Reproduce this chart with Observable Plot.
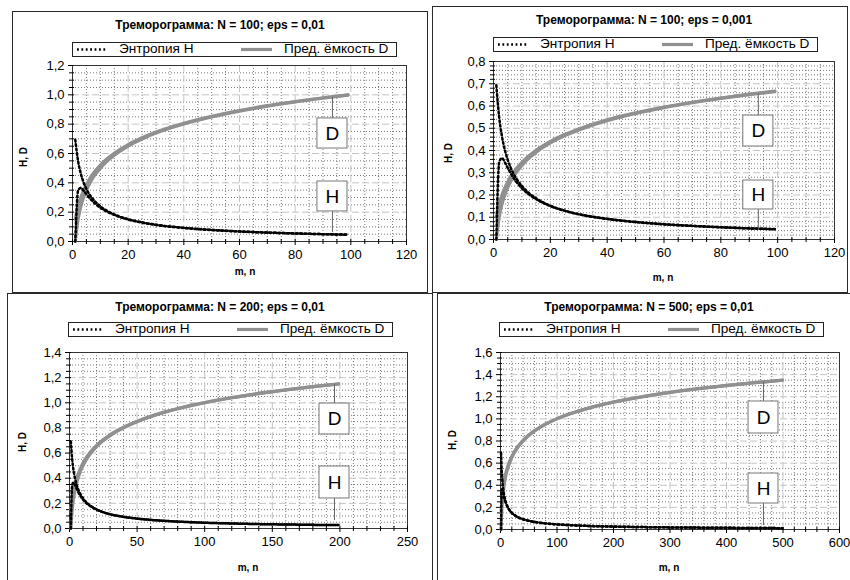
<!DOCTYPE html>
<html><head><meta charset="utf-8">
<script src="https://cdn.jsdelivr.net/npm/d3@7"></script>
<script src="https://cdn.jsdelivr.net/npm/@observablehq/plot@0.6"></script>
<style>
html,body{margin:0;padding:0;background:#fff;}
body{width:850px;height:580px;overflow:hidden;position:relative;font-family:"Liberation Sans",Arial,sans-serif;color:#000;}
.panel{position:absolute;overflow:hidden;}
.panel svg{position:absolute;left:0;top:0;overflow:visible;}
.border{position:absolute;left:0;top:0;right:0;bottom:0;border:1px solid #2a2a2a;box-sizing:border-box;pointer-events:none;}
.title{position:absolute;font-weight:bold;font-size:12px;transform:translate(-50%,-50%);white-space:nowrap;}
.axt{position:absolute;font-weight:bold;font-size:10px;white-space:nowrap;transform:translate(-50%,-50%);}
.axt.rot{transform:translate(-50%,-50%) rotate(-90deg);}
.legend{position:absolute;width:325px;height:15px;border:1px solid #222;box-sizing:border-box;background:#fff;font-size:13.6px;}
.legend span{position:absolute;top:-1px;line-height:14px;white-space:nowrap;}
.legend svg{position:absolute;left:0;top:0;}
</style>
</head><body>
<script>
// ---------- data ----------
const titles = [
  "Треморограмма: N = 100; eps = 0,01",
  "Треморограмма: N = 100; eps = 0,001",
  "Треморограмма: N = 200; eps = 0,01",
  "Треморограмма: N = 500; eps = 0,01"
];
const legendLabels = ["Энтропия H", "Пред. ёмкость D"];
const axisTitles = ["m, n", "H, D"];
const calloutLabels = ["D", "H"];

const mN100 = [1,2,3,4,5,6,7,8,10,12,15,20,25,30,40,50,60,70,80,90,99];
const hUpperN100 = [0.693,0.549,0.462,0.402,0.358,0.324,0.297,0.275,0.240,0.214,0.185,0.152,0.130,0.114,0.093,0.079,0.069,0.061,0.055,0.050,0.047];
const hLowerN100 = [0,0.347,0.366,0.347,0.322,0.299,0.278,0.260,0.230,0.207,0.181,0.150,0.129,0.113,0.092,0.078,0.068,0.061,0.055,0.050,0.046];
const dLowerN100e2 = [0,0.151,0.239,0.301,0.349,0.389,0.423,0.452,0.500,0.540,0.588,0.651,0.699,0.739,0.801,0.849,0.889,0.923,0.952,0.977,0.998];
const dUpperN100e2 = [0.151,0.239,0.301,0.349,0.389,0.423,0.452,0.477,0.521,0.557,0.602,0.661,0.707,0.746,0.806,0.854,0.893,0.926,0.954,0.980,1.000];
const dLowerN100e3 = [0,0.100,0.159,0.201,0.233,0.259,0.282,0.301,0.333,0.360,0.392,0.434,0.466,0.492,0.534,0.566,0.593,0.615,0.634,0.651,0.665];
const dUpperN100e3 = [0.100,0.159,0.201,0.233,0.259,0.282,0.301,0.318,0.347,0.371,0.401,0.441,0.472,0.497,0.538,0.569,0.595,0.617,0.636,0.653,0.667];

const mN200 = [1,2,3,4,5,6,8,10,12,15,20,25,30,40,50,60,70,80,90,100,120,140,160,180,199];
const hUpperN200 = [0.693,0.549,0.462,0.402,0.358,0.324,0.275,0.240,0.214,0.185,0.152,0.130,0.114,0.093,0.079,0.069,0.061,0.055,0.050,0.046,0.040,0.035,0.032,0.029,0.027];
const hLowerN200 = [0,0.347,0.366,0.347,0.322,0.299,0.260,0.230,0.207,0.181,0.150,0.129,0.113,0.092,0.078,0.068,0.061,0.055,0.050,0.046,0.040,0.035,0.032,0.029,0.027];
const dLowerN200 = [0,0.151,0.239,0.301,0.349,0.389,0.452,0.500,0.540,0.588,0.651,0.699,0.739,0.801,0.849,0.889,0.923,0.952,0.977,1.000,1.040,1.073,1.102,1.128,1.149];
const dUpperN200 = [0.151,0.239,0.301,0.349,0.389,0.423,0.477,0.521,0.557,0.602,0.661,0.707,0.746,0.806,0.854,0.893,0.926,0.954,0.980,1.002,1.041,1.075,1.103,1.129,1.150];

const mN500 = [1,2,3,4,5,6,8,10,15,20,30,40,50,60,80,100,125,150,200,250,300,350,400,450,499];
const hUpperN500 = [0.693,0.549,0.462,0.402,0.358,0.324,0.275,0.240,0.185,0.152,0.114,0.093,0.079,0.069,0.055,0.046,0.039,0.033,0.027,0.022,0.019,0.017,0.015,0.014,0.012];
const hLowerN500 = [0,0.347,0.366,0.347,0.322,0.299,0.260,0.230,0.181,0.150,0.113,0.092,0.078,0.068,0.055,0.046,0.039,0.033,0.026,0.022,0.019,0.017,0.015,0.014,0.012];
const dLowerN500 = [0,0.151,0.239,0.301,0.349,0.389,0.452,0.500,0.588,0.651,0.739,0.801,0.849,0.889,0.952,1.000,1.048,1.088,1.151,1.199,1.239,1.272,1.301,1.327,1.349];
const dUpperN500 = [0.151,0.239,0.301,0.349,0.389,0.423,0.477,0.521,0.602,0.661,0.746,0.806,0.854,0.893,0.954,1.002,1.050,1.089,1.152,1.200,1.239,1.273,1.302,1.327,1.350];

const xTicks120 = [0,20,40,60,80,100,120];
const xTicks250 = [0,50,100,150,200,250];
const xTicks600 = [0,100,200,300,400,500,600];
const yTicks12 = [0,0.2,0.4,0.6,0.8,1.0,1.2];
const yTicks08 = [0,0.1,0.2,0.3,0.4,0.5,0.6,0.7,0.8];
const yTicks14 = [0,0.2,0.4,0.6,0.8,1.0,1.2,1.4];
const yTicks16 = [0,0.2,0.4,0.6,0.8,1.0,1.2,1.4,1.6];

// ---------- drawing ----------
const H_COLOR = "#000", D_COLOR = "#909090";
const H_DASH = "1.8,2.6";
const fmtY = d => d.toFixed(1).replace(".", ",");

function minor(max, step, majors) {
  return d3.range(0, max + 1e-9, step).map(v => +v.toFixed(6)).filter(v => !majors.some(t => Math.abs(t - v) < 1e-9));
}

function makePanel(cfg) {
  const [pl, pt, pw, ph] = cfg.box;
  const [fx1, fx2, fy1, fy2] = cfg.frame;
  const div = document.createElement("div");
  div.className = "panel";
  Object.assign(div.style, {left: pl + "px", top: pt + "px", width: pw + "px", height: ph + "px"});

  const rowsD = [], rowsH = [];
  cfg.m.forEach((x, i) => {
    rowsD.push({x, v: cfg.dL[i], b: "lower"});
    rowsD.push({x, v: cfg.dU[i], b: "upper"});
    rowsH.push({x, v: cfg.hL[i], b: "lower"});
    rowsH.push({x, v: cfg.hU[i], b: "upper"});
  });
  const xMax = cfg.xTicks[cfg.xTicks.length - 1];
  const yMax = cfg.yTicks[cfg.yTicks.length - 1];
  const xMinor = minor(xMax, cfg.xMinorStep, cfg.xTicks);
  const yMinor = minor(yMax, cfg.yMinorStep, cfg.yTicks);
  const c = cfg.call;

  const svg = Plot.plot({
    width: pw, height: ph,
    marginLeft: fx1 - pl, marginRight: pl + pw - fx2,
    marginTop: fy1 - pt, marginBottom: pt + ph - fy2,
    x: {domain: [0, xMax]},
    y: {domain: [0, yMax]},
    style: {fontFamily: "'Liberation Sans', Arial, sans-serif", fontSize: "13px", color: "#000", background: "transparent", overflow: "visible"},
    marks: [
      Plot.gridX(xMinor, {stroke: "#7a7a7a", strokeOpacity: 1, strokeDasharray: "1,2"}),
      Plot.gridY(yMinor, {stroke: "#7a7a7a", strokeOpacity: 1, strokeDasharray: "1,2"}),
      Plot.gridX(cfg.xTicks, {stroke: "#c4c4c4", strokeOpacity: 1, strokeDasharray: "7,3"}),
      Plot.gridY(cfg.yTicks, {stroke: "#c4c4c4", strokeOpacity: 1, strokeDasharray: "7,3"}),
      Plot.frame({stroke: "#333"}),
      Plot.axisX(xMinor, {tickSize: 5, dy: -2, tickFormat: () => "", label: null}),
      Plot.axisY(yMinor, {tickSize: 5, dx: 2, tickFormat: () => "", label: null}),
      Plot.axisX(cfg.xTicks, {tickSize: 6, dy: -2, tickPadding: 4, tickFormat: d => String(d), fontSize: 13, label: null}),
      Plot.axisY(cfg.yTicks, {tickSize: 6, dx: 2, tickPadding: 4, tickFormat: fmtY, fontSize: 13, label: null}),
      Plot.line(rowsD, {x: "x", y: "v", z: "b", stroke: D_COLOR, strokeWidth: 3.2, curve: "monotone-x"}),
      Plot.line(rowsH, {x: "x", y: "v", z: "b", stroke: H_COLOR, strokeWidth: 2.5, strokeDasharray: H_DASH, curve: "monotone-x"}),
      // callouts
      Plot.ruleX([c.cx], {y1: c.dTop, y2: c.dBox[1], stroke: "#666"}),
      Plot.ruleX([c.cx], {y1: c.hBox[0], y2: c.hBottom, stroke: "#666"}),
      Plot.rect([c.dBox, c.hBox], {x1: c.cx - c.hw, x2: c.cx + c.hw, y1: d => d[0], y2: d => d[1], fill: "#fff", stroke: "#777"}),
      Plot.text(calloutLabels, {x: c.cx, y: (d, i) => i === 0 ? (c.dBox[0] + c.dBox[1]) / 2 : (c.hBox[0] + c.hBox[1]) / 2, text: d => d, fontSize: 19, fill: "#000"})
    ]
  });
  div.appendChild(svg);

  const t = document.createElement("div");
  t.className = "title"; t.textContent = cfg.title;
  t.style.left = cfg.titlePos[0] + "px"; t.style.top = cfg.titlePos[1] + "px";
  div.appendChild(t);

  const lg = document.createElement("div");
  lg.className = "legend";
  lg.style.left = cfg.legendPos[0] + "px"; lg.style.top = cfg.legendPos[1] + "px";
  lg.innerHTML = `<svg width="325" height="15"><line x1="4" x2="34" y1="6.5" y2="6.5" stroke="${H_COLOR}" stroke-width="2.5" stroke-dasharray="${H_DASH}"/><line x1="168" x2="199" y1="6.5" y2="6.5" stroke="${D_COLOR}" stroke-width="3.2"/></svg>` +
    `<span style="left:46px">${legendLabels[0]}</span><span style="left:211px">${legendLabels[1]}</span>`;
  div.appendChild(lg);

  const xl = document.createElement("div");
  xl.className = "axt"; xl.textContent = axisTitles[0];
  xl.style.left = cfg.xLabPos[0] + "px"; xl.style.top = cfg.xLabPos[1] + "px";
  div.appendChild(xl);
  const yl = document.createElement("div");
  yl.className = "axt rot"; yl.textContent = axisTitles[1];
  yl.style.left = cfg.yLabPos[0] + "px"; yl.style.top = cfg.yLabPos[1] + "px";
  div.appendChild(yl);

  const b = document.createElement("div");
  b.className = "border";
  div.appendChild(b);
  document.body.appendChild(div);
}

makePanel({
  box: [12, 11, 416, 282], frame: [72, 406, 65, 241],
  xTicks: xTicks120, yTicks: yTicks12, xMinorStep: 5, yMinorStep: 0.05,
  m: mN100, hU: hUpperN100, hL: hLowerN100, dU: dUpperN100e2, dL: dLowerN100e2,
  call: {cx: 93.4, hw: 5.4, dTop: 0.985, dBox: [0.634, 0.839], hBox: [0.205, 0.409], hBottom: 0.06},
  title: titles[0], titlePos: [208, 14], legendPos: [60, 31], xLabPos: [233, 260], yLabPos: [11, 146]
});
makePanel({
  box: [432, 6, 416, 287], frame: [493, 834, 61, 239],
  xTicks: xTicks120, yTicks: yTicks08, xMinorStep: 5, yMinorStep: 0.02,
  m: mN100, hU: hUpperN100, hL: hLowerN100, dU: dUpperN100e3, dL: dLowerN100e3,
  call: {cx: 93.2, hw: 5.3, dTop: 0.655, dBox: [0.418, 0.557], hBox: [0.135, 0.265], hBottom: 0.04},
  title: titles[1], titlePos: [212, 14], legendPos: [61, 31], xLabPos: [231, 271], yLabPos: [16, 147]
});
makePanel({
  box: [7, 293, 426, 300], frame: [69, 407, 352, 528],
  xTicks: xTicks250, yTicks: yTicks14, xMinorStep: 10, yMinorStep: 0.05,
  m: mN200, hU: hUpperN200, hL: hLowerN200, dU: dUpperN200, dL: dLowerN200,
  call: {cx: 196, hw: 11.1, dTop: 1.146, dBox: [0.748, 0.994], hBox: [0.239, 0.493], hBottom: 0.064},
  title: titles[2], titlePos: [213, 14], legendPos: [61, 29], xLabPos: [241, 274], yLabPos: [15, 149]
});
makePanel({
  box: [437, 293, 420, 300], frame: [500, 839, 352, 529],
  xTicks: xTicks600, yTicks: yTicks16, xMinorStep: 20, yMinorStep: 0.05,
  m: mN500, hU: hUpperN500, hL: hLowerN500, dU: dUpperN500, dL: dLowerN500,
  call: {cx: 465.5, hw: 26.5, dTop: 1.335, dBox: [0.868, 1.157], hBox: [0.235, 0.506], hBottom: 0.036},
  title: titles[3], titlePos: [212, 14], legendPos: [62, 29], xLabPos: [232, 274], yLabPos: [15, 147]
});
</script>
</body></html>
